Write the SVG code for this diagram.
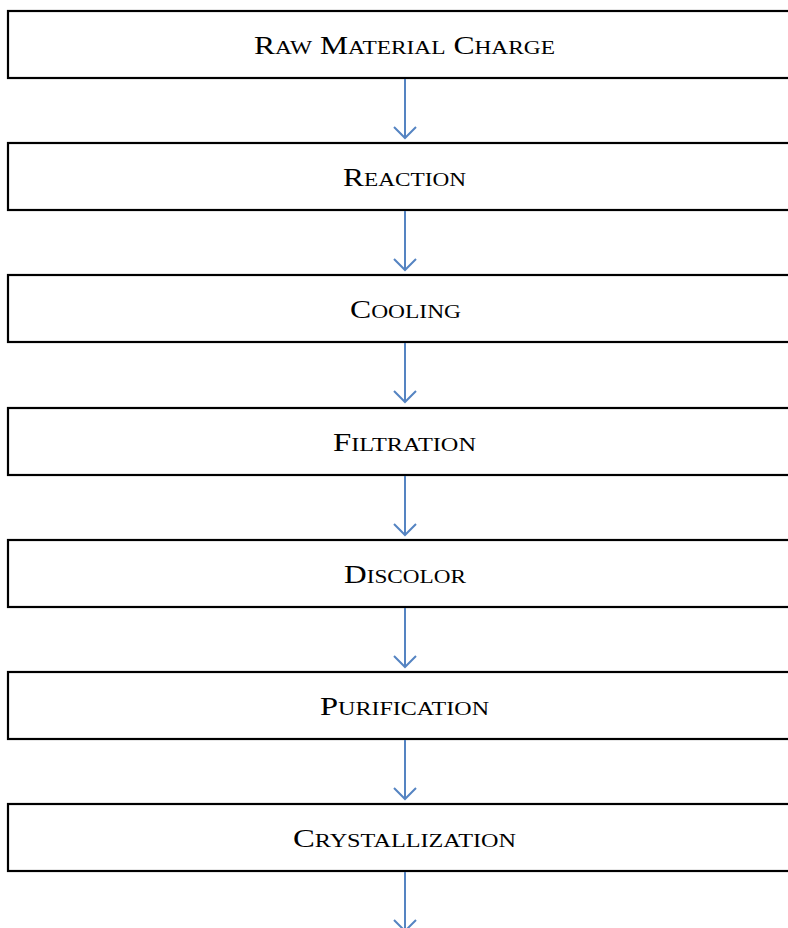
<svg xmlns="http://www.w3.org/2000/svg" width="788" height="928" viewBox="0 0 788 928">
<style>
.box{fill:#fff;stroke:#000;stroke-width:2.2}
.lbl{font-family:"Liberation Serif","Times New Roman",serif;font-size:25px;fill:#000;text-anchor:middle}
.sc{font-size:18.5px}
.con{fill:none;stroke:#5584C2;stroke-width:2;stroke-linejoin:miter}
</style>
<rect width="788" height="928" fill="#fff"/>
<g id="n1"><rect class="box" x="8" y="11" width="800" height="67"/><text class="lbl" x="404.5" y="54" textLength="301" lengthAdjust="spacingAndGlyphs">R<tspan class="sc">AW</tspan> M<tspan class="sc">ATERIAL</tspan> C<tspan class="sc">HARGE</tspan></text></g>
<g id="n2"><rect class="box" x="8" y="143" width="800" height="67"/><text class="lbl" x="404.5" y="186" textLength="123" lengthAdjust="spacingAndGlyphs">R<tspan class="sc">EACTION</tspan></text></g>
<g id="n3"><rect class="box" x="8" y="275" width="800" height="67"/><text class="lbl" x="405.5" y="318" textLength="111" lengthAdjust="spacingAndGlyphs">C<tspan class="sc">OOLING</tspan></text></g>
<g id="n4"><rect class="box" x="8" y="408" width="800" height="67"/><text class="lbl" x="404.5" y="451" textLength="143" lengthAdjust="spacingAndGlyphs">F<tspan class="sc">ILTRATION</tspan></text></g>
<g id="n5"><rect class="box" x="8" y="540" width="800" height="67"/><text class="lbl" x="405" y="583" textLength="122" lengthAdjust="spacingAndGlyphs">D<tspan class="sc">ISCOLOR</tspan></text></g>
<g id="n6"><rect class="box" x="8" y="672" width="800" height="67"/><text class="lbl" x="404.5" y="715" textLength="169" lengthAdjust="spacingAndGlyphs">P<tspan class="sc">URIFICATION</tspan></text></g>
<g id="n7"><rect class="box" x="8" y="804" width="800" height="67"/><text class="lbl" x="404.5" y="847" textLength="223" lengthAdjust="spacingAndGlyphs">C<tspan class="sc">RYSTALLIZATION</tspan></text></g>
<g id="connectors">
<path class="con" d="M405 79V138M394 127L405 138L416 127"/>
<path class="con" d="M405 211V270M394 259L405 270L416 259"/>
<path class="con" d="M405 343V402M394 391L405 402L416 391"/>
<path class="con" d="M405 476V535M394 524L405 535L416 524"/>
<path class="con" d="M405 608V667M394 656L405 667L416 656"/>
<path class="con" d="M405 740V799M394 788L405 799L416 788"/>
<path class="con" d="M405 872V931M394 920L405 931L416 920"/>
</g>
</svg>
